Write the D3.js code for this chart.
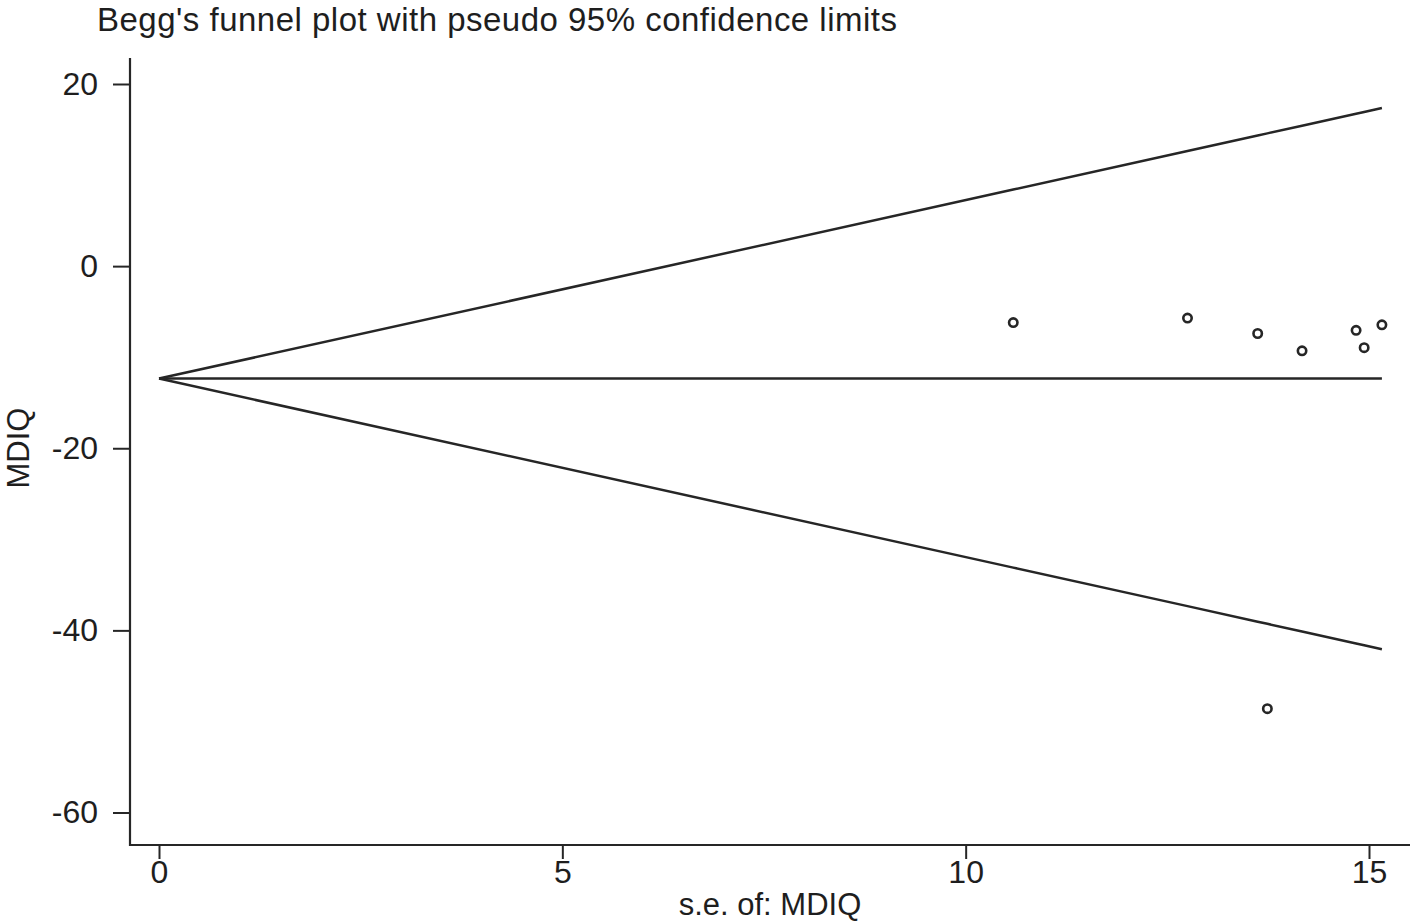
<!DOCTYPE html>
<html>
<head>
<meta charset="utf-8">
<script src="https://cdn.jsdelivr.net/npm/d3@7"></script>
<style>
  body { margin: 0; background: #fff; }
  text { font-family: "Liberation Sans", Arial, sans-serif; fill: #1e1e1e; }
</style>
</head>
<body>
<div id="chart"></div>
<script>
// study standard errors and effect sizes
var seValues = [10.59, 12.75, 13.62, 13.74, 14.17, 14.84, 14.94, 15.16]
var mdiqValues = [-6.2, -5.7, -7.4, -48.6, -9.3, -7.05, -8.95, -6.45]
var pooled = -12.35
var xTicks = [0, 5, 10, 15]
var yTicks = [20, 0, -20, -40, -60]

var width = 1416, height = 923
var ink = "#262626"

var svg = d3.select("#chart").append("svg")
  .attr("width", width)
  .attr("height", height)

var x = d3.scaleLinear().domain([0, 15]).range([159, 1369])
var y = d3.scaleLinear().domain([20, -60]).range([84, 812.5])

var left = 130, bottom = 845

// axes, plain hyphen for negatives like stata
var yAxis = svg.append("g")
  .attr("transform", "translate(" + left + ",0)")
  .call(d3.axisLeft(y).tickValues(yTicks).tickSize(17).tickPadding(15).tickFormat(d => String(d)))
var xAxis = svg.append("g")
  .attr("transform", "translate(0," + bottom + ")")
  .call(d3.axisBottom(x).tickValues(xTicks).tickSize(14).tickPadding(1).tickFormat(d => String(d)))

svg.selectAll(".domain").remove()
svg.selectAll(".tick line").attr("stroke", ink).attr("stroke-width", 2)
svg.selectAll(".tick text").style("font-size", "32px").attr("fill", "#1e1e1e")

svg.append("line").attr("x1", left).attr("x2", left).attr("y1", 58).attr("y2", bottom + 1)
  .attr("stroke", ink).attr("stroke-width", 2.2)
svg.append("line").attr("x1", left - 1).attr("x2", 1410).attr("y1", bottom).attr("y2", bottom)
  .attr("stroke", ink).attr("stroke-width", 2.2)

// funnel limits drawn through sorted se values
var seSorted = [0].concat(seValues.slice().sort(d3.ascending))
var maxSe = d3.max(seValues)

var line = d3.line().x(d => x(d[0])).y(d => y(d[1]))

svg.append("path")
  .attr("d", line(seSorted.map(s => [s, pooled + 1.96 * s])))
  .attr("fill", "none").attr("stroke", ink).attr("stroke-width", 2.5)
svg.append("path")
  .attr("d", line(seSorted.map(s => [s, pooled - 1.96 * s])))
  .attr("fill", "none").attr("stroke", ink).attr("stroke-width", 2.5)
svg.append("path")
  .attr("d", line([[0, pooled], [maxSe, pooled]]))
  .attr("fill", "none").attr("stroke", ink).attr("stroke-width", 2.5)

// studies
svg.selectAll(".pt")
  .data(seValues.map((s, i) => ({se: s, v: mdiqValues[i]})))
  .enter()
  .append("circle")
  .attr("class", "pt")
  .attr("cx", d => x(d.se))
  .attr("cy", d => y(d.v))
  .attr("r", 4.2)
  .attr("fill", "none")
  .attr("stroke", ink)
  .attr("stroke-width", 2.6)

// titles
svg.append("text")
  .attr("x", 97).attr("y", 31)
  .style("font-size", "33px")
  .attr("textLength", 800)
  .text("Begg's funnel plot with pseudo 95% confidence limits")

svg.append("text")
  .attr("transform", "translate(29,448) rotate(-90)")
  .attr("text-anchor", "middle")
  .style("font-size", "31px")
  .text("MDIQ")

svg.append("text")
  .attr("x", 770).attr("y", 915)
  .attr("text-anchor", "middle")
  .style("font-size", "31px")
  .text("s.e. of: MDIQ")
</script>
</body>
</html>
